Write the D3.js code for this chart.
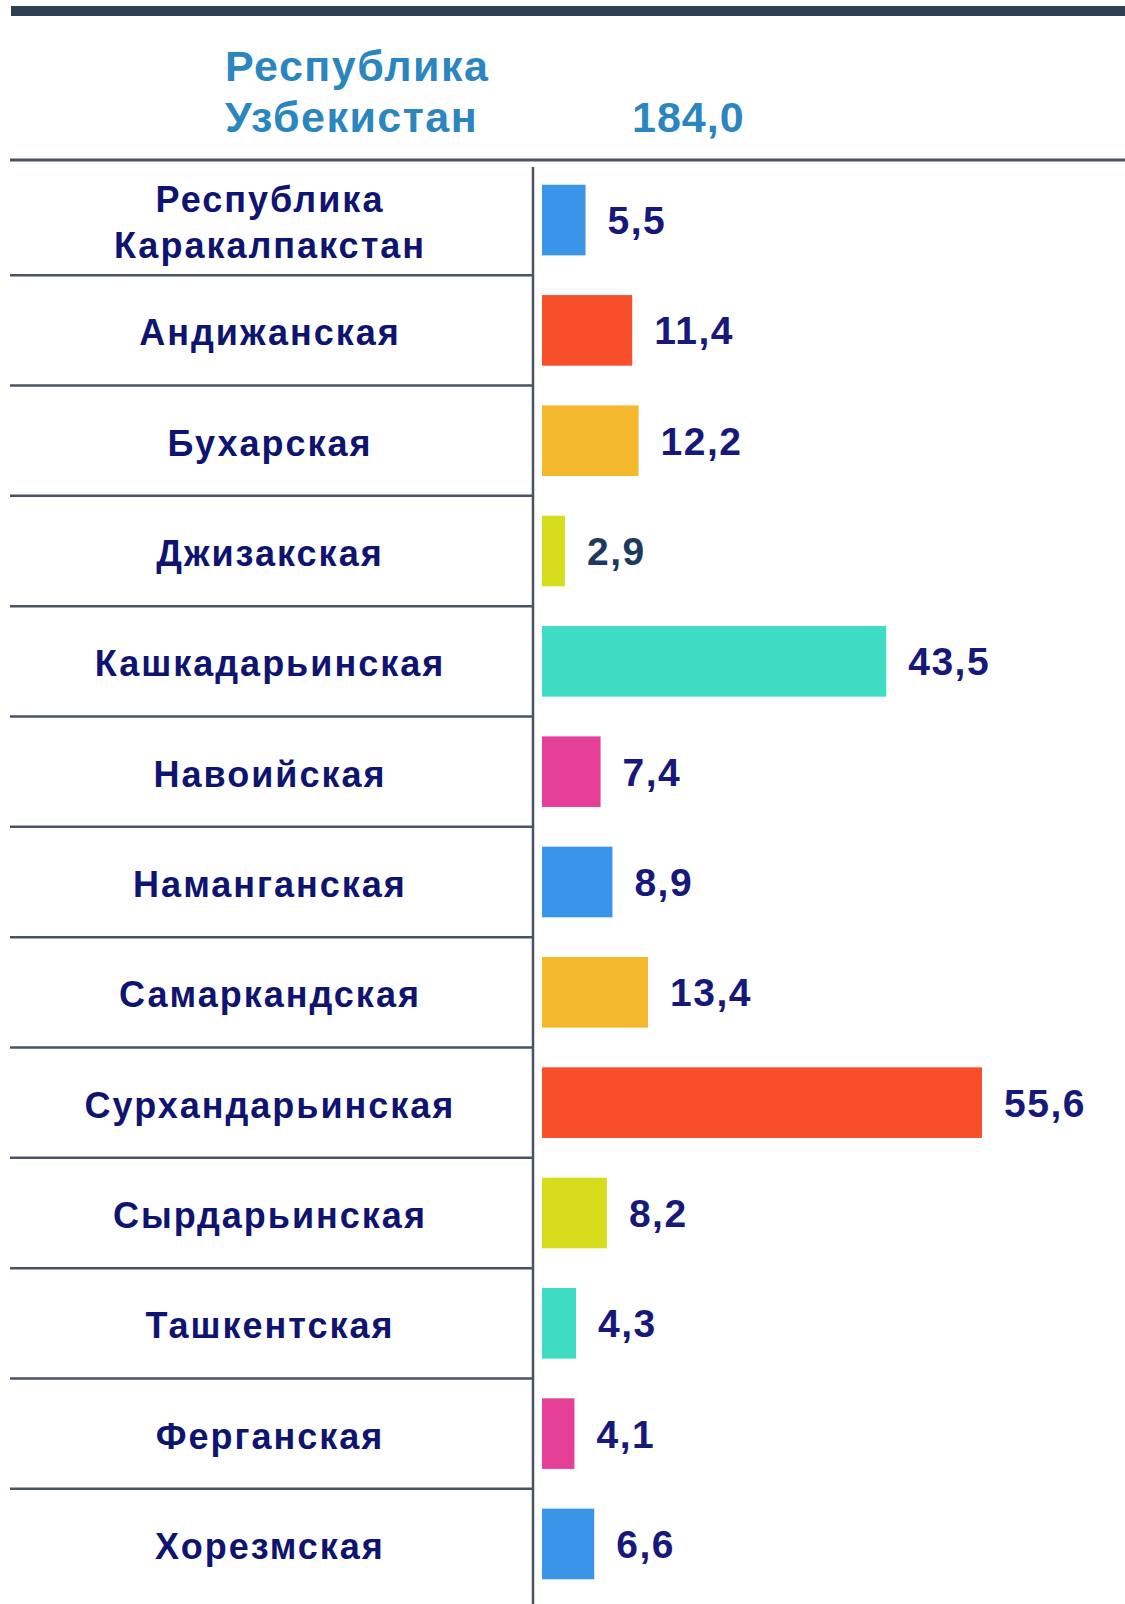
<!DOCTYPE html>
<html>
<head>
<meta charset="utf-8">
<script src="https://cdn.jsdelivr.net/npm/d3@7"></script>
<style>
  html, body { margin: 0; padding: 0; background: #fff; }
  svg { display: block; font-family: "Liberation Sans", Arial, sans-serif; font-weight: bold; }
</style>
</head>
<body>
<div id="chart"></div>
<script>
// regions, top to bottom
const regions = [
  ['Республика', 'Каракалпакстан'],
  ['Андижанская'],
  ['Бухарская'],
  ['Джизакская'],
  ['Кашкадарьинская'],
  ['Навоийская'],
  ['Наманганская'],
  ['Самаркандская'],
  ['Сурхандарьинская'],
  ['Сырдарьинская'],
  ['Ташкентская'],
  ['Ферганская'],
  ['Хорезмская']
];
const values = [5.5, 11.4, 12.2, 2.9, 43.5, 7.4, 8.9, 13.4, 55.6, 8.2, 4.3, 4.1, 6.6];
const barColors = ['#3a95e8', '#f74f2a', '#f3b82b', '#d6dd1c', '#3ddcc3', '#e63f97',
  '#3a95e8', '#f3b82b', '#f74f2a', '#d6dd1c', '#3ddcc3', '#e63f97', '#3a95e8'];
const totalLabel = ['Республика', 'Узбекистан'];
const totalValue = 184.0;

const width = 1125, height = 1604;
const fmt = v => d3.format('.1f')(v).replace('.', ',');

const svg = d3.select('#chart').append('svg')
  .attr('width', width)
  .attr('height', height);

const ids = values.map((d, i) => i);

const x = d3.scaleLinear().domain([0, 55.6]).range([542, 982]);
const y = d3.scaleBand().domain(ids).range([184.75, 1579.25])
  .paddingInner(0.36).paddingOuter(0);

// top dark stripe
svg.append('rect')
  .attr('x', 11).attr('y', 6)
  .attr('width', width - 11).attr('height', 10)
  .attr('fill', '#2f3e55');

// header
const header = svg.append('g').attr('fill', '#2b86c0');
header.selectAll('text.total')
  .data(totalLabel)
  .enter().append('text')
  .attr('class', 'total')
  .attr('x', 225)
  .attr('y', (d, i) => 81 + i * 51)
  .attr('font-size', 43)
  .attr('letter-spacing', 1.5)
  .text(d => d);
header.append('text')
  .attr('x', 632).attr('y', 132)
  .attr('font-size', 43)
  .attr('letter-spacing', 1)
  .text(fmt(totalValue));

// header rule and vertical axis line
svg.append('line')
  .attr('x1', 10).attr('x2', width)
  .attr('y1', 160).attr('y2', 160)
  .attr('stroke', '#4a5263').attr('stroke-width', 3);

svg.append('line')
  .attr('x1', 533).attr('x2', 533)
  .attr('y1', 167).attr('y2', height)
  .attr('stroke', '#4a5263').attr('stroke-width', 2.5);

// row separators on the label side
const step = y.step();
svg.selectAll('.sep')
  .data(ids.slice(0, -1))
  .enter().append('line')
  .attr('class', 'sep')
  .attr('x1', 10).attr('x2', 533)
  .attr('y1', d => y(d) + y.bandwidth() / 2 + step / 2)
  .attr('y2', d => y(d) + y.bandwidth() / 2 + step / 2)
  .attr('stroke', '#4a5263').attr('stroke-width', 2.5);

// bars
svg.selectAll('.bar')
  .data(ids)
  .enter().append('rect')
  .attr('class', 'bar')
  .attr('x', x(0))
  .attr('y', d => y(d))
  .attr('width', d => x(values[d]) - x(0))
  .attr('height', y.bandwidth())
  .attr('fill', d => barColors[d]);

// value labels
svg.selectAll('.val')
  .data(ids)
  .enter().append('text')
  .attr('class', 'val')
  .attr('x', d => x(values[d]) + 22)
  .attr('y', d => y(d) + y.bandwidth() / 2)
  .attr('dy', '0.36em')
  .attr('font-size', 39)
  .attr('letter-spacing', 1.5)
  .attr('fill', d => values[d] === 2.9 ? '#1d3a5e' : '#16187a')
  .text(d => fmt(values[d]));

// category labels
const lab = svg.selectAll('.lab')
  .data(ids)
  .enter().append('text')
  .attr('class', 'lab')
  .attr('x', 270)
  .attr('y', d => y(d) + y.bandwidth() / 2)
  .attr('text-anchor', 'middle')
  .attr('font-size', 36)
  .attr('letter-spacing', 2)
  .attr('fill', '#0f1470');

lab.selectAll('tspan')
  .data(d => regions[d].map((t, i, arr) => ({ t, off: (i - (arr.length - 1) / 2) * 46 })))
  .enter().append('tspan')
  .attr('x', 270)
  .attr('dy', (d, i) => i === 0 ? (d.off + 15) : 46)
  .text(d => d.t);
</script>
</body>
</html>
